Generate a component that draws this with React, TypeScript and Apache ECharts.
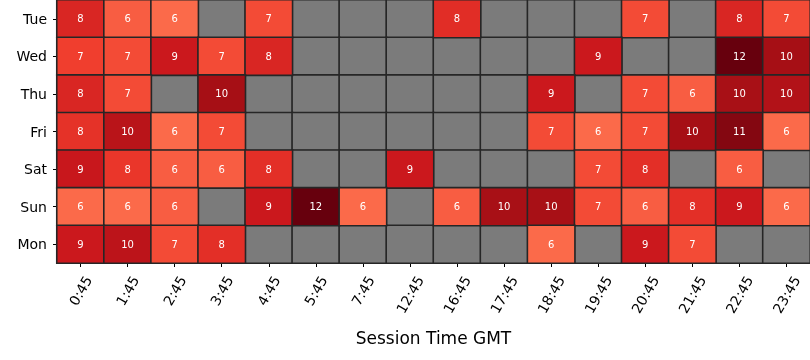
import React, { useEffect, useRef } from "react";
import * as echarts from "echarts";

const days = ["Tue", "Wed", "Thu", "Fri", "Sat", "Sun", "Mon"];
const times = ["0:45", "1:45", "2:45", "3:45", "4:45", "5:45", "7:45", "12:45", "16:45", "17:45", "18:45", "19:45", "20:45", "21:45", "22:45", "23:45"];

const tue = [8.4, 6.4, 6.0, null, 7.0, null, null, null, 8.1, null, null, null, 7.0, null, 8.4, 7.0];
const wed = [7.4, 7.0, 9.0, 7.0, 8.4, null, null, null, null, null, null, 9.0, null, null, 12.0, 10.45];
const thu = [8.4, 7.0, null, 10.45, null, null, null, null, null, null, 9.0, null, 7.0, 6.4, 10.4, 10.0];
const fri = [7.9, 9.7, 6.0, 7.0, null, null, null, null, null, null, 7.0, 6.0, 7.0, 10.45, 11.3, 6.0];
const sat = [9.1, 7.7, 6.4, 6.4, 8.0, null, null, 9.0, null, null, null, 7.0, 8.0, null, 6.4, null];
const sun = [6.0, 6.0, 6.4, null, 9.0, 12.0, 6.0, null, 6.4, 10.4, 10.4, 7.0, 6.4, 8.0, 9.0, 6.0];
const mon = [9.0, 9.6, 7.0, 8.0, null, null, null, null, null, null, 6.0, null, 9.0, 7.0, null, null];

const rows = [tue, wed, thu, fri, sat, sun, mon];

const reds = ["#fff5f0", "#fee0d2", "#fcbba1", "#fc9272", "#fb6a4a", "#ef3b2c", "#cb181d", "#a50f15", "#67000d"];

const FONT = "DejaVu Sans";

export default function App() {
  const ref = useRef<HTMLDivElement>(null);

  useEffect(() => {
    if (!ref.current) return;
    const chart = echarts.init(ref.current, undefined, { renderer: "svg" });

    const valued: any[] = [];
    const missing: any[] = [];
    rows.forEach((row, y) => {
      row.forEach((v, x) => {
        if (v === null) missing.push([x, y, 0]);
        else valued.push([x, y, v]);
      });
    });

    const w4 = 31.4;
    const w5 = 40.3;

    chart.setOption({
      animation: false,
      grid: { left: 57, right: 0, top: 0, bottom: 97 },
      xAxis: {
        type: "category",
        data: times,
        axisLine: { show: false },
        axisTick: { show: true, alignWithLabel: true, length: 4, lineStyle: { color: "#000" } },
        splitLine: { show: false },
        axisLabel: {
          interval: 0,
          rotate: 60,
          align: "center",
          verticalAlign: "middle",
          margin: 14,
          formatter: (v: string) => (v.length <= 4 ? `{s|${v}}` : `{l|${v}}`),
          rich: {
            s: { fontSize: 14, fontFamily: FONT, color: "#000", padding: [0.433 * w4, 0.75 * w4, 0, 0] },
            l: { fontSize: 14, fontFamily: FONT, color: "#000", padding: [0.433 * w5, 0.75 * w5, 0, 0] },
          },
        },
        name: "Session Time GMT",
        nameLocation: "middle",
        nameGap: 66,
        nameTextStyle: { fontSize: 17, fontFamily: FONT, color: "#000" },
      },
      yAxis: {
        type: "category",
        data: days,
        inverse: true,
        axisLine: { show: false },
        axisTick: { show: true, alignWithLabel: true, length: 4, lineStyle: { color: "#000" } },
        splitLine: { show: false },
        axisLabel: { fontSize: 14, fontFamily: FONT, color: "#000", margin: 10 },
      },
      visualMap: [
        {
          type: "continuous",
          show: false,
          seriesIndex: 0,
          min: 0,
          max: 1,
          inRange: { color: ["#7b7b7b", "#7b7b7b"] },
        },
        {
          type: "continuous",
          show: false,
          seriesIndex: 1,
          min: 0,
          max: 12,
          inRange: { color: reds },
        },
      ],
      series: [
        {
          type: "heatmap",
          data: missing,
          itemStyle: { borderColor: "#262626", borderWidth: 1.6 },
          label: { show: false },
          emphasis: { disabled: true },
        },
        {
          type: "heatmap",
          data: valued,
          itemStyle: { borderColor: "#262626", borderWidth: 1.6 },
          label: {
            show: true,
            fontSize: 10,
            fontFamily: FONT,
            color: "#ffffff",
            formatter: (p: any) => String(Math.round(p.value[2])),
          },
          emphasis: { disabled: true },
        },
      ],
    });

    return () => chart.dispose();
  }, []);

  return (
    <div
      ref={ref}
      style={{ position: "fixed", left: 0, top: 0, width: 810, height: 360 }}
    />
  );
}
